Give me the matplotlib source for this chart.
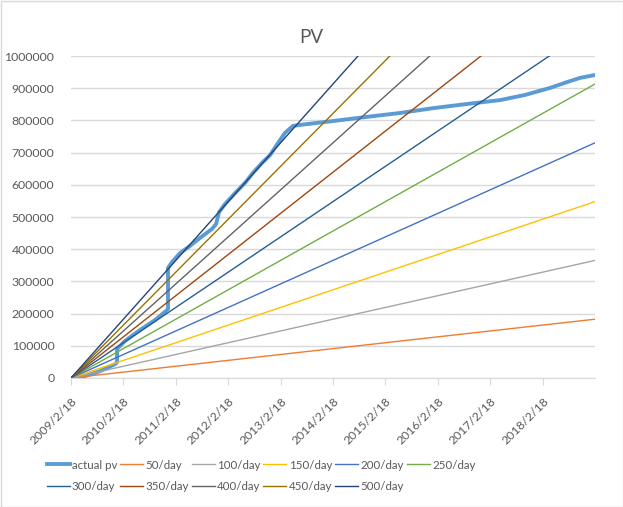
import datetime as dt
import numpy as np
import matplotlib
matplotlib.use("Agg")
import matplotlib.pyplot as plt
import matplotlib.dates as mdates
from matplotlib.patches import Rectangle

plt.rcParams['font.family'] = ['Lato', 'DejaVu Sans']

start = dt.date(2009, 2, 18)
end = dt.date(2019, 2, 18)

# actual pv: days since 2009/2/18 and cumulative page views
pv_days = [0, 98, 202, 307, 321, 321, 376, 481, 585, 662, 676, 676, 704, 760, 829,
           899, 983, 1011, 1032, 1073, 1143, 1213, 1268, 1331, 1387, 1443, 1491,
           1547, 1596, 1826, 2063, 2293, 2523, 2760, 2990, 3164, 3339, 3457, 3548, 3652]
pv_values = [0, 6000, 21000, 43000, 49000, 90000, 115000, 149000, 180000, 208000,
             214000, 342000, 360000, 388000, 410000, 435000, 463000, 478000, 515000,
             540000, 574000, 606000, 637000, 668000, 692000, 730000, 761000, 783000,
             786000, 798000, 811000, 823000, 838000, 851000, 863000, 879000, 901000,
             919000, 932000, 941000]

rates = [50, 100, 150, 200, 250, 300, 350, 400, 450, 500]
rate_labels = [f"{r}/day" for r in rates]
rate_colors = ['#ED7D31', '#A5A5A5', '#FFC000', '#4472C4', '#70AD47',
               '#255E91', '#9E480E', '#636363', '#997300', '#264478']

tick_years = list(range(2009, 2019))

fig = plt.figure(figsize=(6.23, 5.07), dpi=100)
ax = fig.add_axes([71 / 623, 1 - 378 / 507, (595 - 71) / 623, (378 - 56) / 507])

x0 = mdates.date2num(start)
pv_x = [x0 + d for d in pv_days]
handles = []
h, = ax.plot(pv_x, pv_values, color='#5B9BD5', lw=2.8, solid_joinstyle='round',
             label='actual pv')
handles.append(h)

span = (end - start).days
for r, lab, c in zip(rates, rate_labels, rate_colors):
    h, = ax.plot([x0, x0 + span], [0, r * span], color=c, lw=1.0, label=lab)
    handles.append(h)

ax.set_xlim(x0, x0 + span)
ax.set_ylim(0, 1000000)
ax.set_yticks(np.arange(0, 1000001, 100000))
ax.yaxis.set_major_formatter(matplotlib.ticker.FuncFormatter(lambda v, p: f"{int(v)}"))

tick_dates = [dt.date(y, 2, 18) for y in tick_years]
ax.set_xticks([mdates.date2num(d) for d in tick_dates])
ax.set_xticklabels([f"{d.year}/{d.month}/{d.day}" for d in tick_dates],
                   rotation=45, ha='right', rotation_mode='anchor')

ax.grid(axis='y', color='#D9D9D9', lw=1)
ax.set_axisbelow(True)
for s in ['top', 'right', 'left']:
    ax.spines[s].set_visible(False)
ax.spines['bottom'].set_color('#D9D9D9')
ax.tick_params(axis='y', length=0, pad=12, labelsize=8.8, labelcolor='#595959')
ax.tick_params(axis='x', length=5, color='#D9D9D9', pad=8, labelsize=8.8,
               labelcolor='#595959')

fig.text(0.5, 1 - 38 / 507, 'PV', ha='center', va='center', fontsize=13.5,
         color='#595959')

order = [0, 6, 1, 7, 2, 8, 3, 9, 4, 10, 5]
leg = fig.legend([handles[i] for i in order], [handles[i].get_label() for i in order],
                 ncol=6, loc='center', bbox_to_anchor=(261 / 623, 1 - 476 / 507),
                 frameon=False, fontsize=8.3, handlelength=2.0, handletextpad=0.2,
                 columnspacing=0.25, labelspacing=0.95, labelcolor='#595959')

fig.patches.append(Rectangle((0.5 / 623, 0.5 / 507), 1 - 1 / 623, 1 - 1 / 507,
                             transform=fig.transFigure, fill=False,
                             edgecolor='#D9D9D9', lw=1))

fig.savefig('out.png', dpi=100)
